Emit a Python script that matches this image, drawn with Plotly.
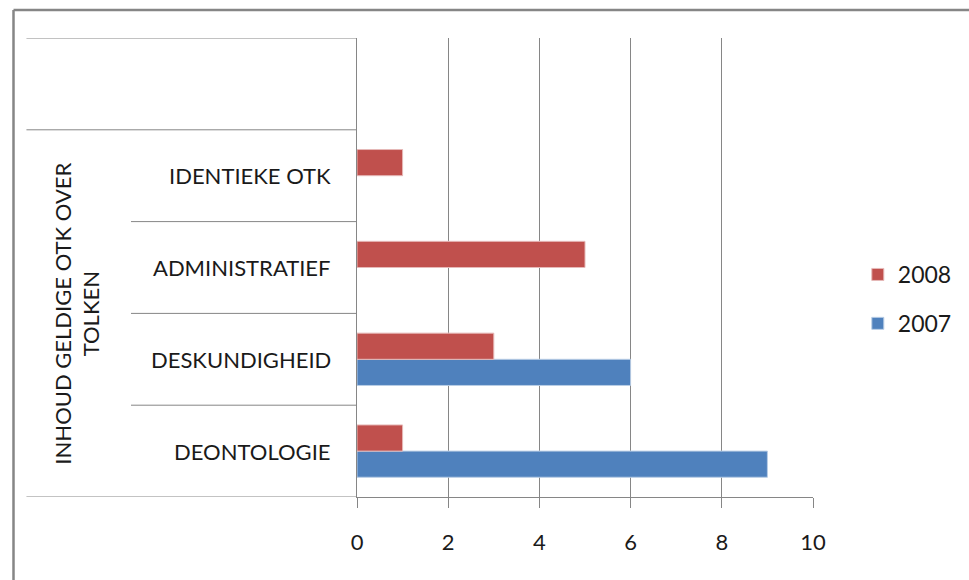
import plotly.graph_objs as go

categories = ['DEONTOLOGIE', 'DESKUNDIGHEID', 'ADMINISTRATIEF', 'IDENTIEKE OTK']
values_2007 = [9, 6, None, None]
values_2008 = [1, 3, 5, 1]
group_label = 'INHOUD GELDIGE OTK OVER<br>TOLKEN'
x_ticks = [0, 2, 4, 6, 8, 10]

FONT = 'Lato'
GRAY = '#868686'
W, H = 969, 580
L, T = 357, 38
PW, PH = 458, 459
R, B = W - L - PW, H - T - PH


# helpers take pixel positions of the reference
def px_x(px):
    return (px - L) / PW


def px_y(py):
    return (H - B - py) / PH


fig = go.Figure()
fig.add_trace(go.Bar(name='2007', y=categories, x=values_2007, orientation='h',
                     legendgroup='y2007', legendrank=2,
                     marker=dict(color='#4F81BD', line=dict(color='#b9cde5', width=1))))
fig.add_trace(go.Bar(name='2008', y=categories, x=values_2008, orientation='h',
                     legendgroup='y2008', legendrank=1,
                     marker=dict(color='#C0504D', line=dict(color='#e6b9b8', width=1))))

shapes = []
# category separators in the left table area
n_slots = len(categories) + 1
for i in range(n_slots + 1):
    yb = i - 0.5
    x0 = px_x(25) if i in (0, n_slots - 1, n_slots) else px_x(130)
    shapes.append(dict(type='line', xref='paper', yref='y', x0=x0, x1=0, y0=yb, y1=yb,
                       line=dict(color=GRAY, width=1)))
# outer frame (cropped)
shapes.append(dict(type='line', xref='paper', yref='paper', x0=px_x(12), x1=px_x(990),
                   y0=px_y(10), y1=px_y(10), line=dict(color='#868686', width=2.5)))
shapes.append(dict(type='line', xref='paper', yref='paper', x0=px_x(12), x1=px_x(12),
                   y0=px_y(10), y1=px_y(600), line=dict(color='#868686', width=2.5)))

annotations = [
    dict(x=px_x(333), y=i, xref='paper', yref='y', text=c, showarrow=False,
         xanchor='right', yanchor='middle', font=dict(family=FONT, size=22, color='#1a1a1a'))
    for i, c in enumerate(categories)
]
annotations.append(dict(x=px_x(76), y=1.5, xref='paper', yref='y', text=group_label,
                        showarrow=False, textangle=-90, xanchor='center', yanchor='middle',
                        font=dict(family=FONT, size=22, color='#1a1a1a')))

fig.update_layout(
    width=W, height=H,
    margin=dict(l=L, r=R, t=T, b=B, pad=0),
    barmode='group', bargap=0.43, bargroupgap=0,
    paper_bgcolor='white', plot_bgcolor='white',
    showlegend=True,
    legend=dict(traceorder='grouped', x=px_x(860), y=px_y(253), xanchor='left', yanchor='top',
                font=dict(family=FONT, size=23, color='#1a1a1a'), itemwidth=30,
                tracegroupgap=16, bgcolor='rgba(0,0,0,0)'),
    shapes=shapes, annotations=annotations,
)
fig.update_xaxes(range=[0, 10], tickvals=x_ticks, showgrid=True, gridcolor=GRAY, gridwidth=1,
                 showline=True, linecolor=GRAY, linewidth=1, ticks='outside', ticklen=10,
                 tickcolor=GRAY, zeroline=False, ticklabelstandoff=16,
                 tickfont=dict(family=FONT, size=22, color='#1a1a1a'), fixedrange=True)
fig.update_yaxes(range=[-0.5, len(categories) + 0.5], showticklabels=False, showgrid=False,
                 showline=True, linecolor=GRAY, linewidth=1, zeroline=False, ticks='',
                 fixedrange=True)

# drop the default page margin so the figure sits at the window origin
fig.write_html('out.html', config={'displayModeBar': False},
               post_script="document.body.style.margin='0';")
